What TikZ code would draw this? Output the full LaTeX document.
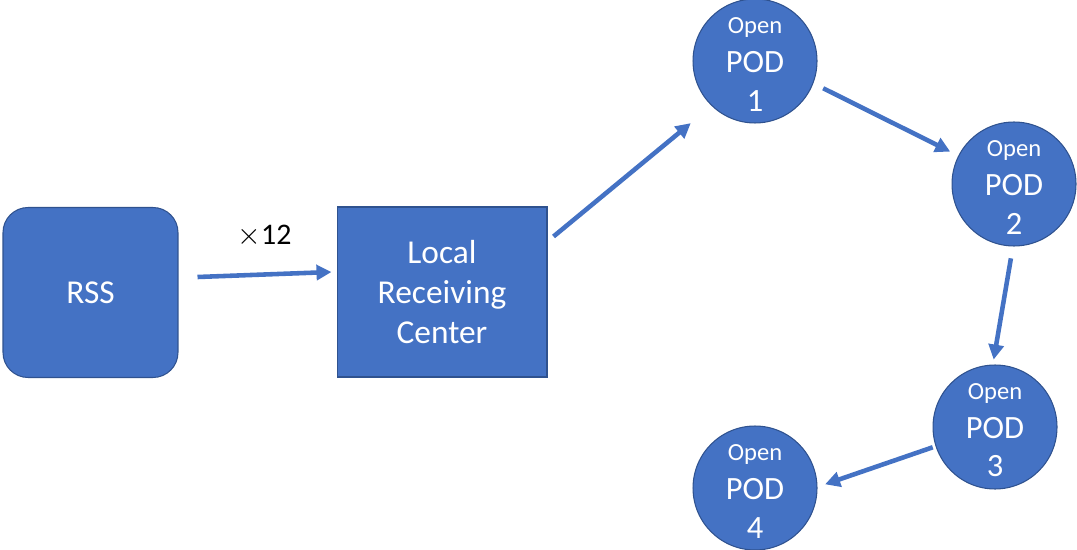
\documentclass[tikz,border=0pt]{standalone}
\usepackage{fontspec}
\setmainfont{Carlito}
\usetikzlibrary{arrows.meta}
\definecolor{podblue}{HTML}{4472C4}
\definecolor{podedge}{HTML}{2F528F}

\begin{document}
\begin{tikzpicture}[x=0.02cm,y=-0.02cm,
  box/.style={draw=podedge,fill=podblue,text=white,line width=0.6pt,
    minimum height=3.4cm,inner sep=0pt,align=center,font=\fontsize{19}{23}\selectfont},
  pod/.style={circle,draw=podedge,fill=podblue,text=white,line width=0.6pt,
    minimum size=2.48cm,inner sep=0pt,align=center,font=\fontsize{18.5}{22}\selectfont},
  flow/.style={-{Triangle[length=0.3cm,width=0.3cm]},podblue,line width=2.6pt}]
  \useasboundingbox (0,0) rectangle (1077,550);
  % sources
  \node[box,rounded corners=0.5cm,minimum width=3.5cm] (rss) at (90.5,292.5) {RSS};
  \node[box,minimum width=4.2cm] (lrc) at (442,292) {Local\\Receiving\\Center};
  % open PODs
  \node[pod] (pod1) at (755,61) {\fontsize{14}{22}\selectfont\rule{0pt}{13pt}Open\\POD\\1};
  \node[pod] (pod2) at (1014,184) {\fontsize{14}{22}\selectfont\rule{0pt}{13pt}Open\\POD\\2};
  \node[pod] (pod3) at (995,427) {\fontsize{14}{22}\selectfont\rule{0pt}{13pt}Open\\POD\\3};
  \node[pod] (pod4) at (755,488) {\fontsize{14}{22}\selectfont\rule{0pt}{13pt}Open\\POD\\4};
  % shipments
  \draw[flow] ([xshift=0.38cm,yshift=0.31cm]rss.east) -- ([xshift=-0.1cm,yshift=0.4cm]lrc.west)
    node[midway,above=0.38cm,text=black,font=\fontsize{17}{19}\selectfont] (times) {$\times$12};
  \draw[flow,shorten >=0.54cm] ([xshift=0.12cm,yshift=-0.6cm]lrc.north east) -- (pod1.226);
  \draw[flow,shorten <=0.22cm,shorten >=0.18cm] (pod1.339) -- (pod2.153);
  \draw[flow,shorten <=0.24cm,shorten >=0.1cm] (pod2.269) -- (pod3.92);
  \draw[flow,shorten <=0.06cm,shorten >=0.16cm] (pod3.198) -- (pod4.1);
\end{tikzpicture}
\end{document}
